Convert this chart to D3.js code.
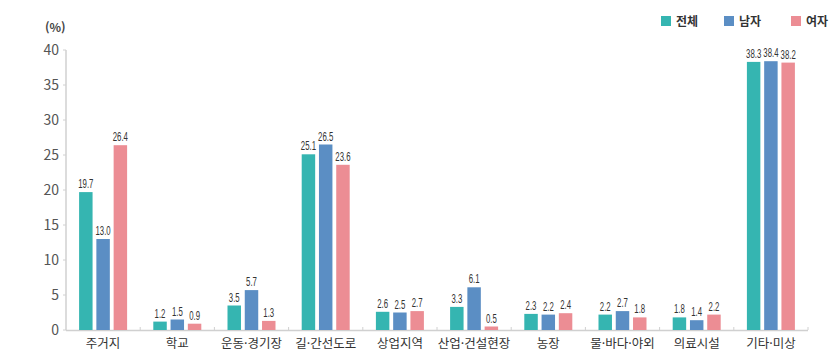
<!DOCTYPE html>
<html lang="ko">
<head>
<meta charset="utf-8">
<title>장소별 비율</title>
<script src="https://d3js.org/d3.v7.min.js"></script>
<style>
  body { margin: 0; background: #fff; }
  svg { display: block; }
  .tick-y { font-family: "Noto Sans CJK KR", "Noto Sans", sans-serif; font-size: 14px; fill: #555; }
  .cat { font-family: "Noto Sans CJK KR", sans-serif; font-size: 12.5px; fill: #333; }
  .val { font-family: "Liberation Sans", sans-serif; font-size: 13px; fill: #333; }
  .leg { font-family: "Noto Sans CJK KR", sans-serif; font-size: 12px; font-weight: bold; fill: #333; }
</style>
</head>
<body>
<div id="chart"></div>
<script>
  const categories = ["주거지", "학교", "운동·경기장", "길·간선도로", "상업지역", "산업·건설현장", "농장", "물·바다·야외", "의료시설", "기타·미상"];
  const seriesNames = ["전체", "남자", "여자"];
  const total = [19.7, 1.2, 3.5, 25.1, 2.6, 3.3, 2.3, 2.2, 1.8, 38.3];
  const male = [13.0, 1.5, 5.7, 26.5, 2.5, 6.1, 2.2, 2.7, 1.4, 38.4];
  const female = [26.4, 0.9, 1.3, 23.6, 2.7, 0.5, 2.4, 1.8, 2.2, 38.2];
  const yTicks = [0, 5, 10, 15, 20, 25, 30, 35, 40];
  const colors = ["#35b5b1", "#5b8ec4", "#ec8d94"];

  const width = 834, height = 358;
  const mLeft = 66, mRight = 808, mTop = 50, mBottom = 330;
  const series = [total, male, female];

  const svg = d3.select("#chart").append("svg")
    .attr("width", width)
    .attr("height", height);

  const x = d3.scaleBand().domain(categories).range([mLeft, mRight]);
  const inner = d3.scaleBand().domain(seriesNames).range([0, 48]).paddingInner(0.22);
  const y = d3.scaleLinear().domain([0, 40]).range([mBottom, mTop]);

  // y axis
  svg.append("line")
    .attr("x1", mLeft).attr("x2", mLeft)
    .attr("y1", mTop).attr("y2", mBottom)
    .attr("stroke", "#d0d0d0").attr("stroke-width", 1.5);
  svg.selectAll(".ytk").data(yTicks).enter().append("line")
    .attr("x1", mLeft - 3).attr("x2", mLeft)
    .attr("y1", d => y(d)).attr("y2", d => y(d))
    .attr("stroke", "#d0d0d0");
  svg.selectAll(".tick-y").data(yTicks).enter().append("text")
    .attr("class", "tick-y")
    .attr("x", mLeft - 7)
    .attr("y", d => y(d) + 5)
    .attr("text-anchor", "end")
    .text(d => d);
  svg.append("text").attr("class", "tick-y")
    .attr("x", 45).attr("y", 32)
    .style("font-size", "12px")
    .style("font-weight", "bold")
    .style("fill", "#444")
    .text("(%)");

  // x axis
  svg.append("line")
    .attr("x1", mLeft).attr("x2", mRight)
    .attr("y1", mBottom + 0.5).attr("y2", mBottom + 0.5)
    .attr("stroke", "#d0d0d0").attr("stroke-width", 1.5);
  svg.selectAll(".xtk").data(categories).enter().append("line")
    .attr("x1", d => x(d) + x.bandwidth())
    .attr("x2", d => x(d) + x.bandwidth())
    .attr("y1", mBottom - 3).attr("y2", mBottom)
    .attr("stroke", "#d0d0d0");
  svg.selectAll(".cat").data(categories).enter().append("text")
    .attr("class", "cat")
    .attr("x", d => x(d) + x.bandwidth() / 2)
    .attr("y", mBottom + 18)
    .attr("text-anchor", "middle")
    .text(d => d);

  // bars
  const groups = svg.selectAll(".grp").data(categories).enter().append("g")
    .attr("transform", d => `translate(${x(d) + x.bandwidth() / 2 - 24},0)`);
  groups.each(function(c, ci) {
    const g = d3.select(this);
    seriesNames.forEach((s, si) => {
      const v = series[si][ci];
      g.append("rect")
        .attr("x", inner(s))
        .attr("y", y(v))
        .attr("width", inner.bandwidth())
        .attr("height", y(0) - y(v))
        .attr("fill", colors[si]);
      // condensed value label
      g.append("text")
        .attr("class", "val")
        .attr("transform", `translate(${inner(s) + inner.bandwidth() / 2},${y(v) - 4}) scale(0.6,1)`)
        .attr("text-anchor", "middle")
        .text(v.toFixed(1));
    });
  });

  // legend
  const legX = [661, 724, 791];
  seriesNames.forEach((s, i) => {
    svg.append("rect")
      .attr("x", legX[i]).attr("y", 16)
      .attr("width", 10).attr("height", 10)
      .attr("fill", colors[i]);
    svg.append("text").attr("class", "leg")
      .attr("x", legX[i] + 15).attr("y", 26)
      .text(s);
  });
</script>
</body>
</html>
